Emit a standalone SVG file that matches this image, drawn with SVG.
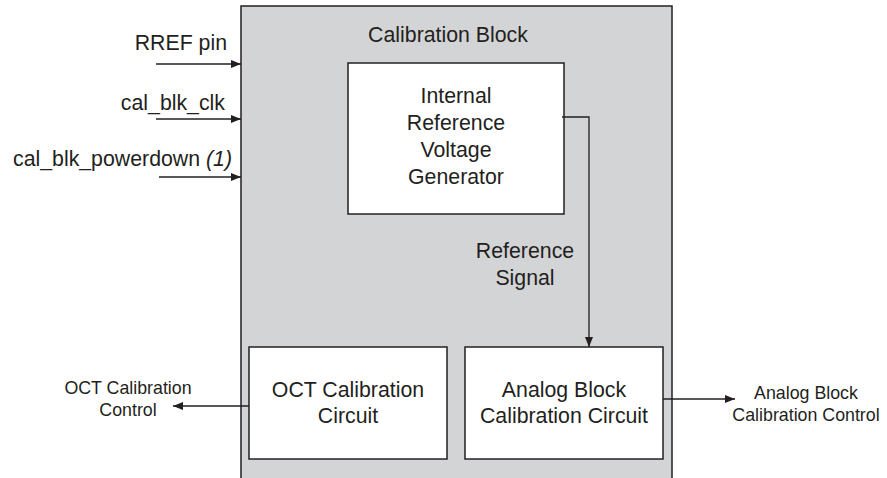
<svg xmlns="http://www.w3.org/2000/svg" width="887" height="478" viewBox="0 0 887 478">
<style>
text{font-family:"Liberation Sans",Arial,sans-serif;fill:#231f20}
.b{font-size:21.3px;text-anchor:middle}
.r{font-size:21.3px;text-anchor:end}
.s{font-size:17.8px;text-anchor:middle}
.box{fill:#fff;stroke:#231f20;stroke-width:1.5}
.ln{fill:none;stroke:#231f20;stroke-width:1.3}
</style>
<defs>
<marker id="ah" viewBox="0 0 10 8" refX="10" refY="4" markerWidth="10" markerHeight="8" markerUnits="userSpaceOnUse" orient="auto">
<path d="M0,0L10,4L0,8z" fill="#231f20"/>
</marker>
</defs>
<g id="calibration-block">
<rect x="241" y="6" width="431" height="480" fill="#d3d4d6" stroke="#231f20" stroke-width="1.5"/>
<text class="b" x="448" y="42">Calibration Block</text>
</g>
<g id="ref-gen">
<rect class="box" x="348" y="63" width="216" height="151"/>
<text class="b" x="456" y="103">Internal</text>
<text class="b" x="456" y="130">Reference</text>
<text class="b" x="456" y="157">Voltage</text>
<text class="b" x="456" y="184">Generator</text>
</g>
<g id="oct-circuit">
<rect class="box" x="249" y="347" width="198" height="112"/>
<text class="b" x="348" y="397">OCT Calibration</text>
<text class="b" x="348" y="423">Circuit</text>
</g>
<g id="analog-circuit">
<rect class="box" x="465" y="347" width="198" height="112"/>
<text class="b" x="564" y="397">Analog Block</text>
<text class="b" x="564" y="423">Calibration Circuit</text>
</g>
<g id="labels">
<text class="r" x="227" y="50">RREF pin</text>
<text class="r" x="225" y="110">cal_blk_clk</text>
<text class="r" x="232" y="166">cal_blk_powerdown <tspan font-style="italic">(1)</tspan></text>
<text class="b" x="525" y="258">Reference</text>
<text class="b" x="525" y="285">Signal</text>
<text class="s" x="128" y="394">OCT Calibration</text>
<text class="s" x="128" y="416">Control</text>
<text class="s" x="806" y="399">Analog Block</text>
<text class="s" x="806" y="421">Calibration Control</text>
</g>
<g id="connectors">
<line class="ln" x1="156" y1="64" x2="241" y2="64" marker-end="url(#ah)"/>
<line class="ln" x1="156" y1="119" x2="241" y2="119" marker-end="url(#ah)"/>
<line class="ln" x1="159" y1="177" x2="241" y2="177" marker-end="url(#ah)"/>
<polyline class="ln" points="562,117 589,117 589,347" marker-end="url(#ah)"/>
<line class="ln" x1="249" y1="406" x2="173" y2="406" marker-end="url(#ah)"/>
<line class="ln" x1="663" y1="399" x2="735" y2="399" marker-end="url(#ah)"/>
</g>
</svg>
